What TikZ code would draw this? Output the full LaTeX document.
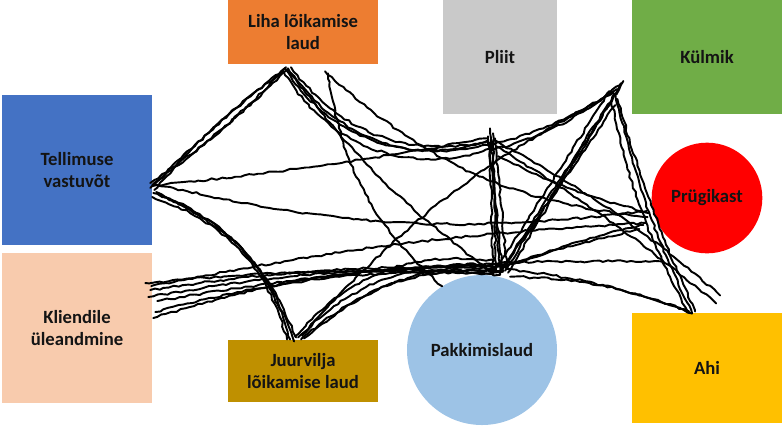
\documentclass[tikz,border=0pt]{standalone}
\usepackage{fontspec}
\setmainfont{Carlito}
\usetikzlibrary{decorations.pathmorphing}
\definecolor{tellvarv}{HTML}{4472C4}
\definecolor{kliendvarv}{HTML}{F8CBAD}
\definecolor{lihavarv}{HTML}{ED7D31}
\definecolor{juurvarv}{HTML}{BF9000}
\definecolor{pliitvarv}{HTML}{C9C9C9}
\definecolor{kylmvarv}{HTML}{70AD47}
\definecolor{prygivarv}{HTML}{FF0000}
\definecolor{pakkvarv}{HTML}{9DC3E6}
\definecolor{ahivarv}{HTML}{FFC000}
\tikzset{
  jaam/.style={draw=none, inner sep=0pt, align=center, text=black!92,
    font=\bfseries\fontsize{14}{16.5}\selectfont},
  kast/.style={jaam, rectangle},
  ring/.style={jaam, circle},
  rada/.style={line width=1.45pt, line join=round, line cap=round, decorate,
    decoration={random steps, segment length=3.5pt, amplitude=0.8pt}}
}
\begin{document}
\begin{tikzpicture}[x=0.75pt, y=-0.75pt]
\pgfmathsetseed{11}
\useasboundingbox (0,0) rectangle (784,426);

\node[kast, fill=tellvarv, minimum width=112.5pt, minimum height=112.5pt] (tell) at (77,170) {Tellimuse\\vastuvõt};
\node[kast, fill=kliendvarv, minimum width=112.5pt, minimum height=112.5pt] (klient) at (77,328) {Kliendile\\üleandmine};
\node[kast, fill=lihavarv, minimum width=112.5pt, minimum height=48pt] (liha) at (303,32) {Liha lõikamise\\laud};
\node[kast, fill=juurvarv, minimum width=112.5pt, minimum height=47pt] (juur) at (303,371) {Juurvilja\\lõikamise laud};
\node[kast, fill=pliitvarv, minimum width=85pt, minimum height=85.5pt] (pliit) at (500,57) {Pliit};
\node[kast, fill=kylmvarv, minimum width=113pt, minimum height=85pt] (kylm) at (707,57) {Külmik};
\node[ring, fill=prygivarv, minimum size=83pt] (prygi) at (707,198) {Prügikast};
\node[ring, fill=pakkvarv, minimum size=112.5pt] (pakk) at (482,350) {Pakkimislaud};
\node[kast, fill=ahivarv, minimum width=113pt, minimum height=83pt] (ahi) at (707,368) {Ahi};

% kohad, kust jooned algavad
\coordinate (tv) at ([shift={(-2,18)}]tell.east);
\coordinate (lh) at ([shift={(-18,4)}]liha.south);
\coordinate (lh2) at ([shift={(25,9)}]liha.south);
\coordinate (jv) at ([shift={(-13,0)}]juur.north);
\coordinate (kl) at ([shift={(-7,-45)}]klient.east);
\coordinate (pl) at ([shift={(-10,14)}]pliit.south);
\coordinate (pk) at ([shift={(18,0)}]pakk.north);
\coordinate (km) at ([shift={(-12,30)}]kylm.west);
\coordinate (pr) at ([shift={(0,17)}]prygi.west);
\coordinate (ah) at ([shift={(-15,1)}]ahi.north);
\coordinate (ah2) at ([shift={(13,-17)}]ahi.north);

% Tellimuse vastuvõtt - Liha
\draw[rada] (tv) to[bend left=3] (lh);
\draw[rada] ([shift={(2,-3)}]tv) to[bend right=3] ([shift={(3,1)}]lh);
\draw[rada] ([shift={(4,2)}]tv) to[bend left=6] ([shift={(-2,3)}]lh);
\draw[rada] ([shift={(0,-5)}]tv) to[bend right=6] ([shift={(1,-1)}]lh);

% Tellimuse vastuvõtt - Juurvilja
\draw[rada] ([shift={(3,5)}]tv) to[bend left=27] (jv);
\draw[rada] ([shift={(6,4)}]tv) to[bend left=24] ([shift={(4,2)}]jv);
\draw[rada] ([shift={(2,9)}]tv) to[bend left=28] ([shift={(-3,0)}]jv);
\draw[rada] ([shift={(10,7)}]tv) to[bend left=22] ([shift={(6,-2)}]jv);

% Tellimuse vastuvõtt - Pliit, Prügikast
\draw[rada] ([shift={(2,-2)}]tv) to[bend right=2] ([shift={(-3,10)}]pl);
\draw[rada] ([shift={(5,-4)}]tv) to[bend right=10] ([shift={(-5,-4)}]pr);

% Liha - Pliit
\draw[rada] (lh) to[bend right=38] ([shift={(-2,12)}]pl);
\draw[rada] ([shift={(3,0)}]lh) to[bend right=35] ([shift={(0,16)}]pl);
\draw[rada] ([shift={(-2,2)}]lh) to[bend right=40] ([shift={(2,20)}]pl);
\draw[rada] ([shift={(6,-1)}]lh) to[bend right=32] ([shift={(-4,14)}]pl);

% Liha - Pakkimislaud, Prügikast
\draw[rada] (lh2) to[bend right=20] (pakk.122);
\draw[rada] ([shift={(-3,-2)}]lh2) to[bend right=18] ([shift={(-4,2)}]pr);
\draw[rada] ([shift={(4,3)}]lh) to[bend right=8] ([shift={(-10,-4)}]pk);

% Kliendile - Pakkimislaud
\draw[rada] (kl) to[bend left=4] (pk);
\draw[rada] ([shift={(5,7)}]kl) to[bend left=5] ([shift={(-4,-6)}]pk);
\draw[rada] ([shift={(3,14)}]kl) to[bend left=6] ([shift={(3,-3)}]pk);
\draw[rada] ([shift={(10,29)}]kl) to[bend left=8] ([shift={(-6,-2)}]pk);
\draw[rada] ([shift={(8,35)}]kl) to[bend left=9] ([shift={(6,-8)}]pk);
\draw[rada] ([shift={(6,3)}]kl) to[bend left=4] ([shift={(-6,8)}]pr);
\draw[rada] ([shift={(12,18)}]kl) to[bend left=5] ([shift={(-30,-52)}]ah);

% Juurvilja - Pakkimislaud, Külmik
\draw[rada] ([shift={(8,-2)}]jv) to[bend left=25] ([shift={(-2,-8)}]pk);
\draw[rada] ([shift={(11,0)}]jv) to[bend left=22] ([shift={(2,-4)}]pk);
\draw[rada] ([shift={(5,-3)}]jv) to[bend left=28] ([shift={(-6,-14)}]pk);
\draw[rada] ([shift={(14,-1)}]jv) to[bend left=20] ([shift={(6,-10)}]pk);
\draw[rada] ([shift={(12,-4)}]jv) to[bend left=10] ([shift={(-6,6)}]km);

% Pliit - Pakkimislaud
\draw[rada] (pl) -- (pk);
\draw[rada] ([shift={(3,5)}]pl) -- ([shift={(-4,-2)}]pk);
\draw[rada] ([shift={(-2,8)}]pl) -- ([shift={(3,-4)}]pk);
\draw[rada] ([shift={(5,10)}]pl) -- ([shift={(7,-6)}]pk);
\draw[rada] ([shift={(0,14)}]pl) -- ([shift={(-7,0)}]pk);

% Pakkimislaud - Külmik
\draw[rada] ([shift={(2,-6)}]pk) -- (km);
\draw[rada] ([shift={(5,-4)}]pk) -- ([shift={(-6,10)}]km);
\draw[rada] ([shift={(-2,-8)}]pk) -- ([shift={(-10,4)}]km);
\draw[rada] ([shift={(8,-2)}]pk) -- ([shift={(4,-6)}]km);
\draw[rada] ([shift={(0,-3)}]pk) -- ([shift={(-4,18)}]km);

% Pliit - Külmik, Ahi, Prügikast
\draw[rada] ([shift={(4,16)}]pl) to[bend right=8] ([shift={(-2,2)}]km);
\draw[rada] ([shift={(2,22)}]pl) to[bend right=12] ([shift={(2,-4)}]km);
\draw[rada] ([shift={(4,12)}]pl) to[bend left=6] (ah2);
\draw[rada] ([shift={(6,18)}]pl) to[bend left=4] ([shift={(-4,8)}]ah2);
\draw[rada] ([shift={(8,28)}]pl) to[bend right=6] ([shift={(-2,-2)}]pr);

% Külmik - Ahi
\draw[rada] ([shift={(-4,8)}]km) to[bend right=6] (ah);
\draw[rada] ([shift={(-2,12)}]km) to[bend right=4] ([shift={(3,-2)}]ah);
\draw[rada] ([shift={(-8,14)}]km) to[bend right=8] ([shift={(-5,-3)}]ah);

% Pakkimislaud - Ahi, Prügikast
\draw[rada] ([shift={(10,2)}]pk) to[bend left=10] (ah);
\draw[rada] ([shift={(6,-6)}]pk) to[bend left=6] ([shift={(-3,-2)}]ah);
\draw[rada] ([shift={(6,-8)}]pk) to[bend left=4] ([shift={(-8,10)}]pr);
\draw[rada] ([shift={(9,-10)}]pk) to[bend left=2] ([shift={(-12,14)}]pr);
\end{tikzpicture}
\end{document}
